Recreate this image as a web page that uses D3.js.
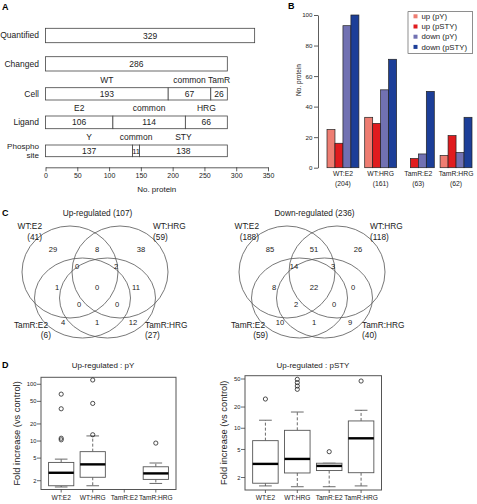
<!DOCTYPE html>
<html><head><meta charset="utf-8">
<script src="https://cdn.jsdelivr.net/npm/d3@7"></script>
<style>
body{margin:0;background:#fff;}
svg{display:block;font-family:"Liberation Sans",Arial,Helvetica,sans-serif;}
</style></head><body>
<svg id="c" width="477" height="504"></svg>
<script>
// ---------- Panel A data ----------
const aRowLabels = ["Quantified","Changed","Cell","Ligand","Phospho site"];
const quantifiedTotal = [329];
const changedTotal = [286];
const cellNames = ["WT","common","TamR"];
const cellValues = [193,67,26];
const ligandNames = ["E2","common","HRG"];
const ligandValues = [106,114,66];
const phosphoNames = ["Y","common","STY"];
const phosphoValues = [137,11,138];
const aTicks = [0,50,100,150,200,250,300,350];
// ---------- Panel B data ----------
const bGroups = ["WT:E2","WT:HRG","TamR:E2","TamR:HRG"];
const bGroupTotals = [204,161,63,62];
const bSeries = ["up (pY)","up (pSTY)","down (pY)","down (pSTY)"];
const bUpPY = [25,33,0,8];
const bUpPSTY = [16,29,6,21];
const bDownPY = [93,51,9,10];
const bDownPSTY = [100,71,50,33];
const bTicks = [0,20,40,60,80,100];
const bColors = ["#EE7D72","#E01B1E","#7171B2","#1C3E98"];
// ---------- Panel C data ----------
const vennSets = ["WT:E2","WT:HRG","TamR:E2","TamR:HRG"];
const vennRegions = ["A","AB","B","ABC","ABD","AC","ABCD","BD","ACD","BCD","C","CD","D"];
const upSetTotals = [41,59,6,27];
const upRegionCounts = [29,8,38,0,2,1,0,11,0,0,4,1,12];
const downSetTotals = [188,118,59,40];
const downRegionCounts = [85,51,26,14,3,8,22,0,2,0,10,1,9];
// ---------- Panel D data ----------
const dCats = ["WT:E2","WT:HRG","TamR:E2","TamR:HRG"];
// [lower whisker, Q1, median, Q3, upper whisker]
const pYStats = [[1.55,1.63,2.76,4.2,4.8],[1.63,2.3,3.88,6.5,12.3],null,[1.79,2.11,2.69,3.52,4.1]];
const pYOutliers = [[67,37,11.2,10.5],[119,46,12.9],[],[9.2]];
const pSTYStats = [[1.52,1.66,3.12,6.67,13],[1.48,2.32,3.67,9.35,17],[1.48,2.51,2.92,3.19,3.19],[1.52,2.34,7.2,12.7,18]];
const pSTYOutliers = [[26],[49.5,44.4,39.8,35.7],[4.65],[46.8]];
const pYTicks = [2,5,10,20,50,100];
const pSTYTicks = [2,5,10,20,50];

const svg = d3.select("#c");
const TXT = "#222";
const FF = "'Liberation Sans',Arial,sans-serif";

// ================= Panel A =================
(function(){
  const g = svg.append("g");
  g.append("text").text("A").attr("x",2).attr("y",10).attr("font-size",9).attr("font-weight","bold");
  const x = d3.scaleLinear().domain([0,350]).range([45.5,268]);
  const rows = [
    {label:[aRowLabels[0]], names:null, vals:quantifiedTotal, y0:28.3, y1:42.7},
    {label:[aRowLabels[1]], names:null, vals:changedTotal, y0:56.7, y1:71},
    {label:[aRowLabels[2]], names:cellNames, vals:cellValues, y0:87.7, y1:100},
    {label:[aRowLabels[3]], names:ligandNames, vals:ligandValues, y0:116, y1:128.7},
    {label:aRowLabels[4].split(" "), names:phosphoNames, vals:phosphoValues, y0:145, y1:156.7}
  ];
  rows.forEach(r=>{
    let cum = 0;
    const cy = (r.y0+r.y1)/2;
    const n = r.label.length;
    r.label.forEach((l,i)=>{
      g.append("text").text(l).attr("x",39).attr("y",cy + (i-(n-1)/2)*9.2).attr("dy","0.35em")
        .attr("text-anchor","end").attr("font-size",n>1?8.1:8.5).attr("fill",TXT);
    });
    r.vals.forEach((v,i)=>{
      const xa = x(cum), xb = x(cum+v);
      g.append("rect").attr("x",xa).attr("y",r.y0).attr("width",xb-xa).attr("height",r.y1-r.y0)
        .attr("fill","#fff").attr("stroke","#444").attr("stroke-width",0.8);
      g.append("text").text(v).attr("x",(xa+xb)/2).attr("y",cy).attr("dy","0.36em")
        .attr("text-anchor","middle").attr("font-size",v<20?7.6:8.5).attr("fill",TXT);
      if(r.names){
        g.append("text").text(r.names[i]).attr("x",(xa+xb)/2).attr("y",r.y0-5).attr("dy","0")
          .attr("text-anchor","middle").attr("font-size",8.5).attr("fill",TXT);
      }
      cum += v;
    });
  });
  const ax = g.append("g").attr("transform","translate(0,167.3)")
    .call(d3.axisBottom(x).tickValues(aTicks).tickSize(4).tickSizeOuter(0).tickPadding(2));
  ax.selectAll("path,line").attr("stroke","#333").attr("stroke-width",0.8);
  ax.selectAll("text").attr("font-size",7).attr("fill",TXT).attr("font-family",FF);
  g.append("text").text("No. protein").attr("x",x(175)).attr("y",192).attr("text-anchor","middle")
    .attr("font-size",8).attr("fill",TXT);
})();

// ================= Panel B =================
(function(){
  const g = svg.append("g");
  g.append("text").text("B").attr("x",288).attr("y",9).attr("font-size",9).attr("font-weight","bold");
  const y = d3.scaleLinear().domain([0,100]).range([167.7,15]);
  const gx = d3.scaleBand().domain(bGroups).range([327,472]).paddingInner(0.154).paddingOuter(0);
  const sx = d3.scaleBand().domain(bSeries).range([0,gx.bandwidth()]);
  const seriesVals = [bUpPY,bUpPSTY,bDownPY,bDownPSTY];
  bGroups.forEach((grp,gi)=>{
    bSeries.forEach((s,si)=>{
      const v = seriesVals[si][gi];
      g.append("rect").attr("x",gx(grp)+sx(s)).attr("width",sx.bandwidth())
        .attr("y",y(v)).attr("height",y(0)-y(v))
        .attr("fill",bColors[si]).attr("stroke","#222").attr("stroke-width",0.7);
    });
    const cx = gx(grp)+gx.bandwidth()/2;
    g.append("text").text(grp).attr("x",cx).attr("y",176).attr("text-anchor","middle").attr("font-size",6.8).attr("fill",TXT);
    g.append("text").text("("+bGroupTotals[gi]+")").attr("x",cx).attr("y",186).attr("text-anchor","middle").attr("font-size",6.8).attr("fill",TXT);
  });
  const ax = g.append("g").attr("transform","translate(318,0)")
    .call(d3.axisLeft(y).tickValues(bTicks).tickSize(4).tickSizeOuter(0).tickPadding(1.5));
  ax.selectAll("path,line").attr("stroke","#333").attr("stroke-width",0.8);
  ax.selectAll("text").attr("font-size",6.2).attr("fill",TXT).attr("font-family",FF);
  g.append("text").text("No. protein").attr("transform","translate(301,80) rotate(-90)")
    .attr("text-anchor","middle").attr("font-size",6.5).attr("fill",TXT);
  // legend
  g.append("rect").attr("x",408).attr("y",11.7).attr("width",64.7).attr("height",41.6)
    .attr("fill","#fff").attr("stroke","#444").attr("stroke-width",0.6);
  bSeries.forEach((s,i)=>{
    const yy = 16.3 + i*10.2;
    g.append("rect").attr("x",413.5).attr("y",yy-2).attr("width",4).attr("height",4).attr("fill",bColors[i]);
    g.append("text").text(s).attr("x",421.5).attr("y",yy).attr("dy","0.35em").attr("font-size",7.8).attr("fill",TXT);
  });
})();

// ================= Panel C =================
svg.append("text").text("C").attr("x",2).attr("y",216).attr("font-size",9).attr("font-weight","bold");
function drawVenn(cx, title, totals, counts){
  const g = svg.append("g");
  const cy = 287;
  const ells = [
    {x:cx-25, y:cy-15, rx:48, ry:46},
    {x:cx+25, y:cy-15, rx:48, ry:46},
    {x:cx-12.5, y:cy+11, rx:48, ry:40},
    {x:cx+12.5, y:cy+11, rx:48, ry:40}
  ];
  ells.forEach(e=>{
    g.append("ellipse").attr("cx",e.x).attr("cy",e.y).attr("rx",e.rx).attr("ry",e.ry)
      .attr("fill","none").attr("stroke","#555").attr("stroke-width",0.8);
  });
  const off = {A:[-44,-38],AB:[0,-38],B:[44,-38],ABC:[-20,-21],ABD:[19,-21],AC:[-40,0],ABCD:[0,0],
               BD:[39,0],ACD:[-18,17],BCD:[20,17],C:[-34,35],CD:[0,35],D:[36,35]};
  vennRegions.forEach((r,i)=>{
    g.append("text").text(counts[i]).attr("x",cx+2+off[r][0]).attr("y",cy+off[r][1]).attr("dy","0.35em")
      .attr("text-anchor","middle").attr("font-size",7.6).attr("fill",TXT);
  });
  g.append("text").text(title).attr("x",cx+2.5).attr("y",216).attr("text-anchor","middle").attr("font-size",8.3).attr("fill",TXT);
  const lab = [
    {x:cx-53, a:"end", y:229},
    {x:cx+58, a:"start", y:229},
    {x:cx-47, a:"end", y:327.5},
    {x:cx+50, a:"start", y:327.5}
  ];
  vennSets.forEach((s,i)=>{
    g.append("text").text(s).attr("x",lab[i].x).attr("y",lab[i].y).attr("text-anchor",lab[i].a).attr("font-size",8.3).attr("fill",TXT);
    g.append("text").text("("+totals[i]+")").attr("x",lab[i].x + (i===2?3:0)).attr("y",lab[i].y+10.5).attr("text-anchor",lab[i].a).attr("font-size",8.3).attr("fill",TXT);
  });
}
drawVenn(95,"Up-regulated (107)",upSetTotals,upRegionCounts);
drawVenn(312,"Down-regulated (236)",downSetTotals,downRegionCounts);

// ================= Panel D =================
svg.append("text").text("D").attr("x",2).attr("y",368).attr("font-size",9).attr("font-weight","bold");
function drawBox(o){
  const g = svg.append("g");
  const x = d3.scaleLinear().domain([0.36,4.64]).range([o.x0,o.x1]);
  const y = d3.scaleLog().domain(o.ydom).range([o.y1,o.y0]);
  const bw = (x(1)-x(0))*0.8;
  g.append("rect").attr("x",o.x0).attr("y",o.y0).attr("width",o.x1-o.x0).attr("height",o.y1-o.y0)
    .attr("fill","none").attr("stroke","#555").attr("stroke-width",1);
  o.stats.forEach((s,i)=>{
    const cx = x(i+1);
    if(s){
      const [lw,q1,md,q3,uw] = s;
      [[q3,uw],[q1,lw]].forEach(([a,b])=>{
        if(Math.abs(y(a)-y(b))>0.5){
          g.append("line").attr("x1",cx).attr("x2",cx).attr("y1",y(a)).attr("y2",y(b))
            .attr("stroke","#444").attr("stroke-width",0.8).attr("stroke-dasharray","3,2");
        }
      });
      [lw,uw].forEach(v=>{
        g.append("line").attr("x1",cx-bw/4).attr("x2",cx+bw/4).attr("y1",y(v)).attr("y2",y(v))
          .attr("stroke","#444").attr("stroke-width",0.8);
      });
      g.append("rect").attr("x",cx-bw/2).attr("y",y(q3)).attr("width",bw).attr("height",y(q1)-y(q3))
        .attr("fill","#fff").attr("stroke","#555").attr("stroke-width",0.9);
      g.append("line").attr("x1",cx-bw/2).attr("x2",cx+bw/2).attr("y1",y(md)).attr("y2",y(md))
        .attr("stroke","#000").attr("stroke-width",2.4);
    }
    o.outliers[i].forEach(v=>{
      g.append("circle").attr("cx",cx).attr("cy",y(v)).attr("r",2.1)
        .attr("fill","none").attr("stroke","#222").attr("stroke-width",0.8);
    });
    g.append("line").attr("x1",cx).attr("x2",cx).attr("y1",o.y1).attr("y2",o.y1+3).attr("stroke","#444").attr("stroke-width",0.8);
    g.append("text").text(dCats[i]).attr("x",cx).attr("y",o.y1+10).attr("text-anchor","middle").attr("font-size",6.6).attr("fill",TXT);
  });
  o.ticks.forEach(t=>{
    g.append("line").attr("x1",o.x0-4).attr("x2",o.x0).attr("y1",y(t)).attr("y2",y(t)).attr("stroke","#444").attr("stroke-width",0.8);
    g.append("text").text(t).attr("x",o.x0-4.5).attr("y",y(t)).attr("dy","0.35em").attr("text-anchor","end").attr("font-size",5.8).attr("fill",TXT);
  });
  g.append("text").text("Fold increase (vs control)").attr("transform",`translate(${o.ylabX},${(o.y0+o.y1)/2}) rotate(-90)`)
    .attr("text-anchor","middle").attr("font-size",9.3).attr("fill",TXT);
  g.append("text").text(o.title).attr("x",o.titleX).attr("y",368).attr("text-anchor","middle").attr("font-size",8).attr("fill",TXT);
}
drawBox({x0:41,x1:176,y0:377.3,y1:489.5,ydom:[1.40,132.7],stats:pYStats,outliers:pYOutliers,ticks:pYTicks,
         ylabX:20,title:"Up-regulated : pY",titleX:103});
drawBox({x0:245,x1:381.5,y0:375.7,y1:490,ydom:[1.33,55.7],stats:pSTYStats,outliers:pSTYOutliers,ticks:pSTYTicks,
         ylabX:227,title:"Up-regulated : pSTY",titleX:313});
</script>
</body></html>
